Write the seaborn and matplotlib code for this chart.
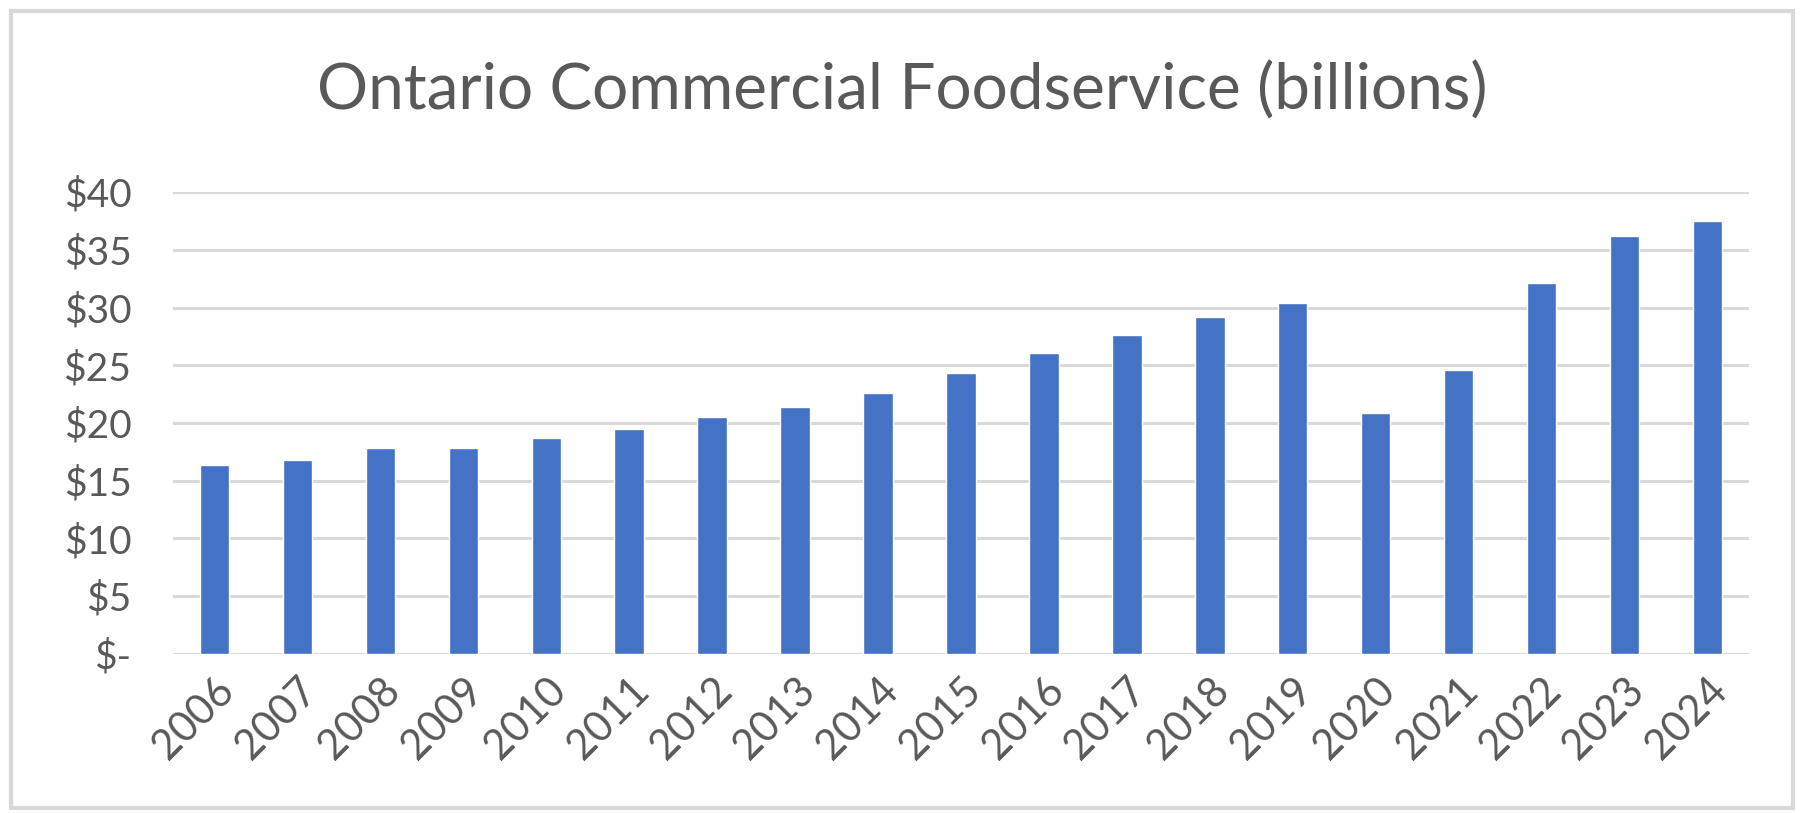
import numpy as np
import pandas as pd
import matplotlib
matplotlib.use('Agg')
import matplotlib.pyplot as plt
import seaborn as sns
from matplotlib.patches import Rectangle

years = ['2006', '2007', '2008', '2009', '2010', '2011', '2012', '2013', '2014', '2015',
         '2016', '2017', '2018', '2019', '2020', '2021', '2022', '2023', '2024']
sales = [16.4, 16.8, 17.8, 17.8, 18.7, 19.5, 20.5, 21.4, 22.6, 24.3,
         26.1, 27.6, 29.2, 30.4, 20.9, 24.6, 32.1, 36.2, 37.5]
y_ticks = [0, 5, 10, 15, 20, 25, 30, 35, 40]
y_labels = ['$-', '$5', '$10', '$15', '$20', '$25', '$30', '$35', '$40']

df = pd.DataFrame({'year': years, 'sales': sales})

sns.set_theme(style='white')
plt.rcParams['font.family'] = ['Lato', 'DejaVu Sans']
text_col = '#595959'
grid_col = '#D9D9D9'

fig = plt.figure(figsize=(18.04, 8.13), dpi=100)
ax = fig.add_axes([0.0959, 0.1956, 0.8736, 0.5682])

sns.barplot(data=df, x='year', y='sales', color='#4472C4', width=0.355,
            saturation=1, ax=ax, zorder=3)

ax.set_ylim(0, 40)
ax.set_yticks(y_ticks)
ax.set_yticklabels(y_labels)
ax.set_xlim(-0.5, len(years) - 0.5)
ax.yaxis.grid(True, color=grid_col, linewidth=2.2, zorder=0)
ax.set_axisbelow(True)
for s in ax.spines.values():
    s.set_visible(False)
ax.set_xlabel('')
ax.set_ylabel('')
ax.tick_params(axis='y', length=0, labelsize=28, labelcolor=text_col, pad=30)
ax.tick_params(axis='x', length=0, labelsize=30, labelcolor=text_col, pad=12)
for lbl in ax.get_xticklabels():
    lbl.set_rotation(45)
    lbl.set_ha('right')
    lbl.set_va('top')
    lbl.set_rotation_mode('anchor')

fig.text(0.5, 0.888, 'Ontario Commercial Foodservice (billions)', ha='center', va='center',
         fontsize=46, color=text_col)

fig.patches.append(Rectangle((0.006, 0.006), 0.988, 0.98, transform=fig.transFigure,
                             fill=False, edgecolor=grid_col, linewidth=3))

fig.savefig('out.png', dpi=100)
